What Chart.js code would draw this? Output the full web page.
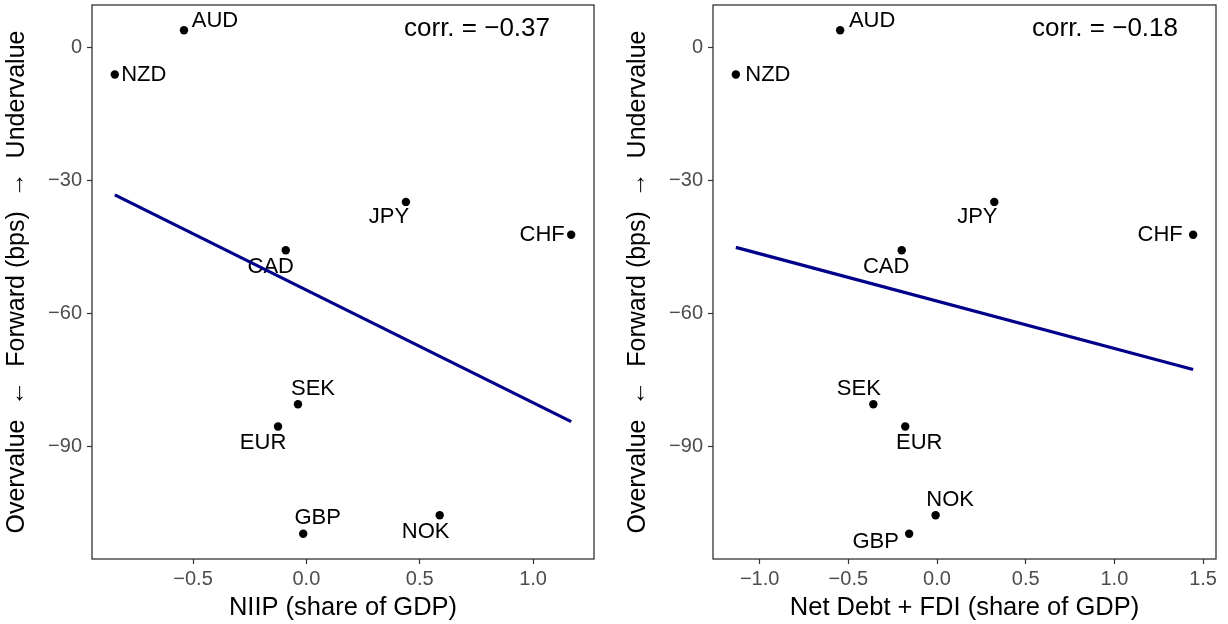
<!DOCTYPE html>
<html>
<head>
<meta charset="utf-8">
<script src="https://cdn.jsdelivr.net/npm/chart.js@4/dist/chart.umd.min.js"></script>
<style>
  html, body { margin: 0; padding: 0; background: #ffffff; }
  body { width: 1228px; height: 624px; position: relative; overflow: hidden; }
  canvas { position: absolute; top: 0; }
  #left { left: 0px; }
  #right { left: 621px; }
</style>
</head>
<body>
<canvas id="left" width="606" height="624"></canvas>
<canvas id="right" width="607" height="624"></canvas>
<script>
// Currency forward valuation against external balance-sheet measures
const currencies = ['AUD', 'NZD', 'JPY', 'CHF', 'CAD', 'SEK', 'EUR', 'GBP', 'NOK'];
const forwardBps = [3.9, -6.1, -34.8, -42.2, -45.7, -80.4, -85.4, -109.6, -105.4];
const niip = [-0.54, -0.845, 0.439, 1.168, -0.091, -0.037, -0.125, -0.014, 0.588];
const netDebtFdi = [-0.546, -1.134, 0.323, 1.444, -0.199, -0.359, -0.179, -0.157, -0.008];

const yTicks = [0, -30, -60, -90];
const niipTicks = [-0.5, 0.0, 0.5, 1.0];
const netDebtTicks = [-1.0, -0.5, 0.0, 0.5, 1.0, 1.5];

const corrLabels = ['corr. = \u22120.37', 'corr. = \u22120.18'];
const xTitles = ['NIIP (share of GDP)', 'Net Debt + FDI (share of GDP)'];
const yTitle = 'Overvalue  \u2190  Forward (bps)  \u2192  Undervalue';

// pixel offsets of each text label from its point (label centre)
const niipLabelNudge = {
  AUD: [31, -9], NZD: [29, 0], JPY: [-17, 15], CHF: [-29, 0], CAD: [-15, 16.5],
  SEK: [15, -15], EUR: [-15, 16.5], GBP: [14.5, -15.5], NOK: [-14, 17]
};
const debtLabelNudge = {
  AUD: [32, -9], NZD: [32, 0], JPY: [-17, 15], CHF: [-33, 0], CAD: [-15.5, 16.5],
  SEK: [-14.5, -15.5], EUR: [14, 16.5], GBP: [-33.5, 8.5], NOK: [14.5, -15.5]
};

const FONT = "'Liberation Sans', Arial, Helvetica, sans-serif";

function fmtMinus(s) { return String(s).replace('-', '\u2212'); }

function expand(vals) {
  const lo = Math.min(...vals), hi = Math.max(...vals);
  const pad = (hi - lo) * 0.05;
  return [lo - pad, hi + pad];
}

function olsLine(xs, ys) {
  const n = xs.length;
  const mx = xs.reduce((a, b) => a + b, 0) / n;
  const my = ys.reduce((a, b) => a + b, 0) / n;
  let sxy = 0, sxx = 0;
  for (let i = 0; i < n; i++) { sxy += (xs[i] - mx) * (ys[i] - my); sxx += (xs[i] - mx) ** 2; }
  const b = sxy / sxx, a = my - b * mx;
  const x0 = Math.min(...xs), x1 = Math.max(...xs);
  return [{ x: x0, y: a + b * x0 }, { x: x1, y: a + b * x1 }];
}

const panelDecor = {
  id: 'panelDecor',
  beforeDatasetsDraw(chart, args, opts) {
    const ctx = chart.ctx;
    const meta = chart.getDatasetMeta(0);
    ctx.save();
    ctx.fillStyle = '#000000';
    ctx.font = '22px ' + FONT;
    ctx.textAlign = 'center';
    ctx.textBaseline = 'middle';
    meta.data.forEach((pt, i) => {
      const name = currencies[i];
      const [dx, dy] = opts.nudge[name];
      ctx.fillText(name, pt.x + dx, pt.y + dy);
    });
    ctx.restore();
  },
  afterDraw(chart, args, opts) {
    const ctx = chart.ctx;
    const a = chart.chartArea;
    ctx.save();
    ctx.strokeStyle = '#333333';
    ctx.lineWidth = 1.3;
    ctx.strokeRect(a.left, a.top, a.right - a.left, a.bottom - a.top);
    ctx.fillStyle = '#000000';
    ctx.font = '26px ' + FONT;
    ctx.textAlign = 'right';
    ctx.textBaseline = 'middle';
    ctx.fillText(opts.corr, a.right + opts.corrDx, a.top + 24);
    ctx.restore();
  }
};

function makePanel(canvasId, xs, xTickVals, xTitle, corr, nudge, corrDx, rightPad) {
  const pts = xs.map((x, i) => ({ x: x, y: forwardBps[i] }));
  const [xmin, xmax] = expand(xs);
  const [ymin, ymax] = expand(forwardBps);
  return new Chart(document.getElementById(canvasId), {
    type: 'scatter',
    data: {
      datasets: [
        {
          data: pts,
          pointRadius: 4.2,
          pointHoverRadius: 4.2,
          pointBackgroundColor: '#000000',
          pointBorderWidth: 0,
          order: 2
        },
        {
          type: 'line',
          data: olsLine(xs, forwardBps),
          borderColor: '#00008B',
          borderWidth: 3.2,
          pointRadius: 0,
          fill: false,
          order: 1
        }
      ]
    },
    options: {
      responsive: false,
      animation: false,
      devicePixelRatio: 1,
      layout: { padding: { left: 0, right: rightPad, top: 5, bottom: 0 } },
      plugins: {
        legend: { display: false },
        tooltip: { enabled: false },
        panelDecor: { corr: corr, nudge: nudge, corrDx: corrDx }
      },
      scales: {
        x: {
          type: 'linear',
          min: xmin, max: xmax,
          afterBuildTicks: (s) => { s.ticks = xTickVals.map(v => ({ value: v })); },
          afterFit: (s) => { s.height = 65; s.paddingLeft = 0; s.paddingRight = 0; },
          ticks: {
            callback: (v) => fmtMinus(Number(v).toFixed(1)),
            color: '#4d4d4d',
            font: { family: FONT, size: 20 },
            padding: 3,
            maxRotation: 0,
            autoSkip: false
          },
          grid: { drawOnChartArea: false, drawTicks: true, tickLength: 5, tickColor: '#333333', tickWidth: 1.2 },
          border: { display: false },
          title: {
            display: true, text: xTitle, color: '#000000',
            font: { family: FONT, size: 25.5, lineHeight: 1 },
            padding: { top: 0, bottom: 3 }
          }
        },
        y: {
          type: 'linear',
          min: ymin, max: ymax,
          afterBuildTicks: (s) => { s.ticks = yTicks.map(v => ({ value: v })); },
          afterFit: (s) => { s.width = 92; s.paddingTop = 0; s.paddingBottom = 0; },
          ticks: {
            callback: (v) => fmtMinus(String(v)),
            color: '#4d4d4d',
            font: { family: FONT, size: 20 },
            padding: 5,
            autoSkip: false
          },
          grid: { drawOnChartArea: false, drawTicks: true, tickLength: 5, tickColor: '#333333', tickWidth: 1.2 },
          border: { display: false },
          title: {
            display: true, text: yTitle, color: '#000000',
            font: { family: FONT, size: 25, lineHeight: 1 },
            padding: { top: 5, bottom: 0 }
          }
        }
      }
    },
    plugins: [panelDecor]
  });
}

makePanel('left', niip, niipTicks, xTitles[0], corrLabels[0], niipLabelNudge, -44, 12);
makePanel('right', netDebtFdi, netDebtTicks, xTitles[1], corrLabels[1], debtLabelNudge, -38, 12);
</script>
</body>
</html>
